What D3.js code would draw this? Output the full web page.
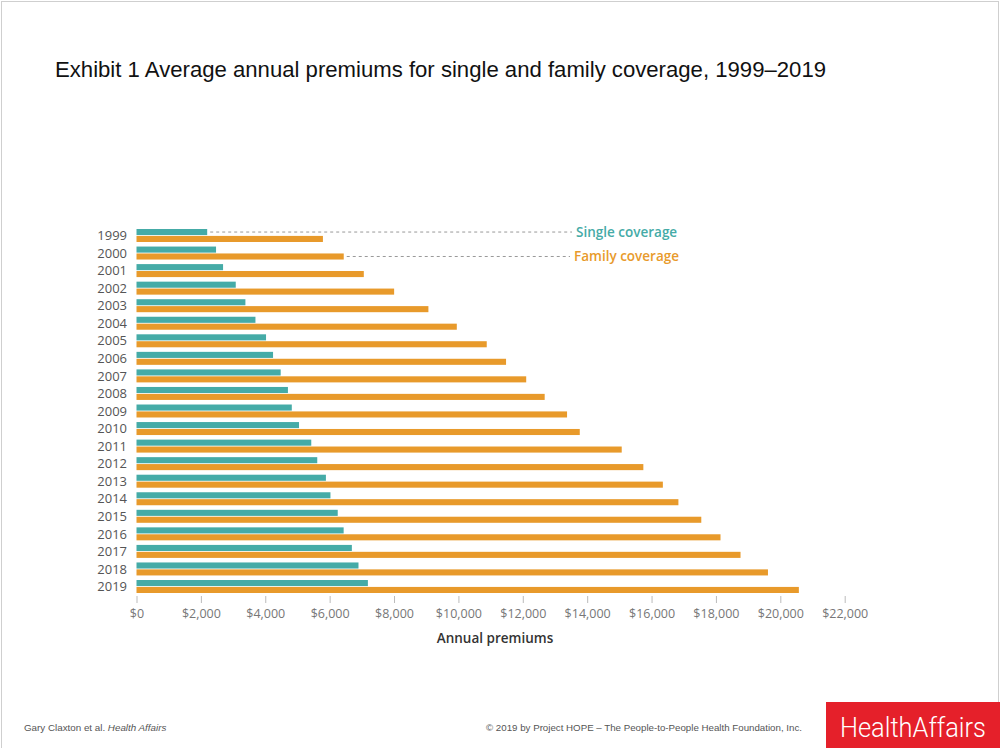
<!DOCTYPE html>
<html><head><meta charset="utf-8">
<script src="https://cdn.jsdelivr.net/npm/d3@7/dist/d3.min.js"></script>
<style>body{margin:0;background:#fff}svg{display:block}</style>
</head><body>
<svg id="c" width="1000" height="748"></svg>
<script>
const years = ["1999","2000","2001","2002","2003","2004","2005","2006","2007","2008","2009","2010","2011","2012","2013","2014","2015","2016","2017","2018","2019"];
const single = [2196,2471,2689,3083,3383,3695,4024,4242,4479,4704,4824,5049,5429,5615,5884,6025,6251,6435,6690,6896,7188];
const family = [5791,6438,7061,8003,9068,9950,10880,11480,12106,12680,13375,13770,15073,15745,16351,16834,17545,18142,18764,19616,20576];
const xTicks = [0,2000,4000,6000,8000,10000,12000,14000,16000,18000,20000,22000];
const seriesNames = ["Single coverage","Family coverage"];

const TEAL = "#45aba7", ORANGE = "#e89a2b";
const svg = d3.select("#c");

// frame
svg.append("rect").attr("x",1.5).attr("y",1.5).attr("width",997).attr("height",760)
  .attr("fill","none").attr("stroke","#cfcfcf").attr("stroke-width",1);

// title
svg.append("text").attr("x",55).attr("y",77)
  .attr("font-family","Liberation Sans, Arial, sans-serif").attr("font-size",22).attr("fill","#111")
  .attr("textLength",771).attr("lengthAdjust","spacingAndGlyphs")
  .text("Exhibit 1 Average annual premiums for single and family coverage, 1999\u20132019");

const x = d3.scaleLinear().domain([0,22000]).range([136.5,844.7]);
const y = d3.scaleBand().domain(years).range([229,593]).paddingInner(0.26).paddingOuter(0);
const inner = d3.scaleBand().domain(["single","family"]).range([0,y.bandwidth()]).paddingInner(0.12);

const data = years.map((yr,i)=>({yr, single:single[i], family:family[i]}));

const g = svg.append("g");
g.selectAll("rect.s").data(data).join("rect").attr("class","s")
  .attr("x",x(0)).attr("y",d=>y(d.yr)+inner("single"))
  .attr("width",d=>x(d.single)-x(0)).attr("height",inner.bandwidth()).attr("fill",TEAL);
g.selectAll("rect.f").data(data).join("rect").attr("class","f")
  .attr("x",x(0)).attr("y",d=>y(d.yr)+inner("family"))
  .attr("width",d=>x(d.family)-x(0)).attr("height",inner.bandwidth()).attr("fill",ORANGE);

// year labels
g.selectAll("text.yr").data(years).join("text").attr("class","yr")
  .attr("x",127).attr("y",d=>y(d)+y.bandwidth()/2).attr("dy","0.36em")
  .attr("text-anchor","end").attr("font-family","Open Sans, sans-serif").attr("font-size",13)
  .attr("fill","#555").text(d=>d);

// x axis
const axis = d3.axisBottom(x).tickValues(xTicks).tickSize(7).tickPadding(6)
  .tickFormat(d=>"$"+d3.format(",")(d));
const ax = svg.append("g").attr("transform","translate(0,596)").call(axis);
ax.select(".domain").remove();
ax.selectAll(".tick line").attr("stroke","#bbb");
ax.selectAll(".tick text").attr("font-family","Open Sans, sans-serif").attr("font-size",12.5).attr("fill","#777");

svg.append("text").attr("x",495).attr("y",643).attr("text-anchor","middle")
  .attr("font-family","Open Sans, sans-serif").attr("font-weight",600).attr("font-size",13.5).attr("fill","#333")
  .text("Annual premiums");

// legend with dashed leader lines
const ySingle0 = y(years[0]) + inner("single") + inner.bandwidth()/2;
const yFamily1 = y(years[1]) + inner("family") + inner.bandwidth()/2;
svg.append("line").attr("x1",x(single[0])+3).attr("x2",572).attr("y1",ySingle0).attr("y2",ySingle0)
  .attr("stroke","#999").attr("stroke-width",1).attr("stroke-dasharray","3,3");
svg.append("line").attr("x1",x(family[1])+3).attr("x2",570).attr("y1",yFamily1).attr("y2",yFamily1)
  .attr("stroke","#999").attr("stroke-width",1).attr("stroke-dasharray","3,3");
svg.append("text").attr("x",576).attr("y",ySingle0).attr("dy","0.36em")
  .attr("font-family","Open Sans, sans-serif").attr("font-weight",600).attr("font-size",13.5).attr("fill",TEAL)
  .text(seriesNames[0]);
svg.append("text").attr("x",574).attr("y",yFamily1).attr("dy","0.36em")
  .attr("font-family","Open Sans, sans-serif").attr("font-weight",600).attr("font-size",13.5).attr("fill",ORANGE)
  .text(seriesNames[1]);

// footer
const ft = svg.append("text").attr("x",24).attr("y",731)
  .attr("font-family","Liberation Sans, Arial, sans-serif").attr("font-size",9.8).attr("fill","#555");
ft.append("tspan").text("Gary Claxton et al. ");
ft.append("tspan").attr("font-style","italic").text("Health Affairs");
svg.append("text").attr("x",486).attr("y",731)
  .attr("font-family","Liberation Sans, Arial, sans-serif").attr("font-size",9.8).attr("fill","#555")
  .attr("textLength",316).attr("lengthAdjust","spacingAndGlyphs")
  .text("\u00a9 2019 by Project HOPE \u2013 The People-to-People Health Foundation, Inc.");
svg.append("rect").attr("x",826).attr("y",702).attr("width",174).attr("height",46).attr("fill","#e5202a");
svg.append("text").attr("x",840).attr("y",737)
  .attr("font-family","Roboto, sans-serif").attr("font-weight",300).attr("font-size",28).attr("fill","#fff")
  .attr("textLength",146).attr("lengthAdjust","spacingAndGlyphs")
  .text("HealthAffairs");
</script>
</body></html>
